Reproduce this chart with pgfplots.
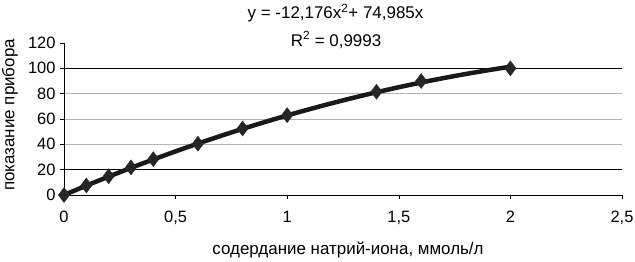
\documentclass[border=0pt]{standalone}
\usepackage{pgfplots}
\pgfplotsset{compat=1.18}
\usepackage{fontspec}
\setmainfont{Liberation Sans}
\begin{document}
\fontsize{16}{18}\selectfont
\begin{tikzpicture}[x=1bp,y=1bp]
\useasboundingbox (0,0) rectangle (635,261);
\begin{axis}[
  at={(64bp,66bp)}, anchor=south west,
  scale only axis, width=558bp, height=152bp,
  xmin=0, xmax=2.5, ymin=0, ymax=120,
  xtick={0,0.5,1,1.5,2,2.5},
  ytick={0,20,40,60,80,100},
  extra y ticks={120},
  extra y tick style={grid=none},
  axis x line=bottom, axis y line=left,
  x axis line style={-}, y axis line style={-},
  tick align=outside, major tick length=4bp,
  tick style={black, line width=0.5bp},
  ymajorgrids, grid style={gray!60, line width=0.8bp},
  /pgf/number format/use comma,
  /pgf/number format/assume math mode=true,
  ticklabel style={font=\fontsize{16.5}{18}\selectfont},
  xticklabel style={yshift=-7bp},
  yticklabel style={xshift=1bp},
  clip=false,
]
\draw[black, line width=0.8bp] (axis cs:0,20) -- (axis cs:2.5,20);
\draw[black, line width=0.8bp] (axis cs:0,100) -- (axis cs:2.5,100);
\addplot[black!90, line width=4.5bp, smooth] coordinates {
(0,0) (0.1,7.377) (0.2,14.510) (0.3,21.400) (0.4,28.046) (0.5,34.448)
(0.6,40.608) (0.7,46.523) (0.8,52.195) (0.9,57.624) (1.0,62.809)
(1.1,67.750) (1.2,72.449) (1.3,76.904) (1.4,81.115) (1.5,85.082)
(1.6,88.806) (1.7,92.287) (1.8,95.522) (1.9,98.515) (2.0,101.266)};
\addplot[only marks, mark=diamond*, mark size=7.5bp, mark options={fill=black!85, draw=black!85}] coordinates {
(0,0) (0.1,7.5) (0.2,14.8) (0.3,21.8) (0.4,28.3) (0.6,40.5)
(0.8,52.5) (1.0,63) (1.4,81.5) (1.6,90) (2.0,100)};
\end{axis}
\node[font=\fontsize{17}{19}\selectfont] at (335.5bp,248bp) {y = -12,176x$^{\mathrm{2}}$+ 74,985x};
\node[font=\fontsize{17}{19}\selectfont] at (336bp,221bp) {R$^{\mathrm{2}}$ = 0,9993};
\node[rotate=90, font=\fontsize{17}{19}\selectfont] at (10bp,146bp) {показание прибора};
\node[font=\fontsize{17}{19}\selectfont] at (348bp,11bp) {содердание натрий-иона, ммоль/л};
\end{tikzpicture}
\end{document}
